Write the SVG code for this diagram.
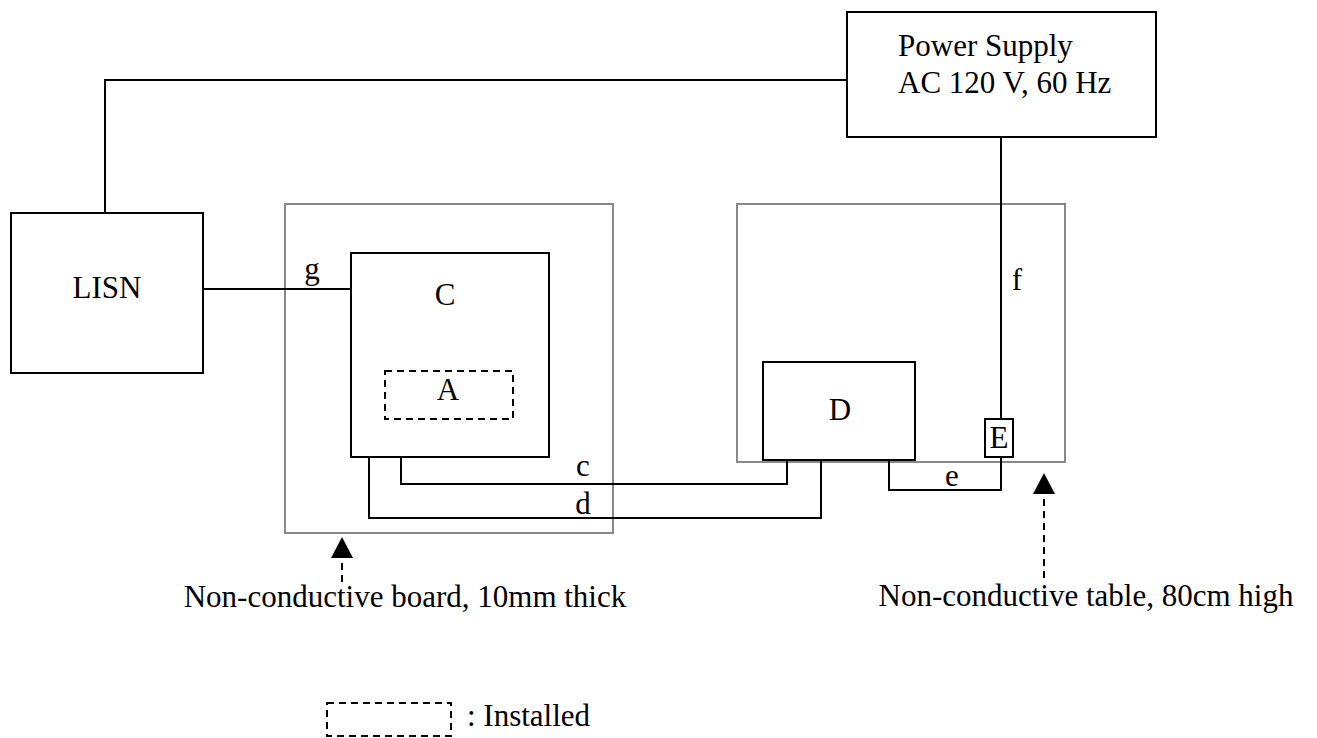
<svg xmlns="http://www.w3.org/2000/svg" width="1317" height="738" viewBox="0 0 1317 738">
<style>
.box{fill:#fff;stroke:#000;stroke-width:2}
.base{fill:none;stroke:#888;stroke-width:2}
.dash{fill:none;stroke:#000;stroke-width:2;stroke-dasharray:7 5}
.wire{fill:none;stroke:#000;stroke-width:2}
text{font-family:"Liberation Serif","DejaVu Serif",serif;font-size:31px;fill:#000}
.m{text-anchor:middle}
</style>
<defs>
<marker id="tri" markerWidth="22" markerHeight="22" refX="21" refY="11" orient="auto" markerUnits="userSpaceOnUse" viewBox="0 0 22 22">
<path d="M0,0 L21,11 L0,22 Z" fill="#000"/>
</marker>
</defs>
<rect width="1317" height="738" fill="#fff"/>
<g id="board"><rect class="base" x="285" y="204" width="328" height="329"/></g>
<g id="table"><rect class="base" x="737" y="204" width="328" height="258"/></g>
<g id="connectors">
<polyline class="wire" points="105,213 105,80 847,80"/>
<line class="wire" x1="201" y1="289" x2="351" y2="289"/>
<polyline class="wire" points="401,457 401,484 787,484 787,460"/>
<polyline class="wire" points="369,457 369,518 821,518 821,460"/>
<polyline class="wire" points="889,460 889,490 1001,490 1001,457"/>
<line class="wire" x1="1001" y1="137" x2="1001" y2="419"/>
<line class="dash" x1="342" y1="582" x2="342" y2="537" marker-end="url(#tri)"/>
<line class="dash" x1="1044" y1="578" x2="1044" y2="473" marker-end="url(#tri)"/>
<text class="m" x="312" y="279">g</text>
<text class="m" x="583" y="476">c</text>
<text class="m" x="583" y="514">d</text>
<text class="m" x="952" y="486">e</text>
<text class="m" x="1017" y="290">f</text>
</g>
<g id="power"><rect class="box" x="847" y="12" width="309" height="125"/>
<text x="898" y="56">Power Supply</text>
<text x="898" y="93">AC 120 V, 60 Hz</text></g>
<g id="lisn"><rect class="box" x="11" y="213" width="192" height="160"/>
<text class="m" x="107" y="298">LISN</text></g>
<g id="C"><rect class="box" x="351" y="253" width="198" height="204"/>
<text class="m" x="445" y="305">C</text></g>
<g id="A"><rect class="dash" x="385" y="371" width="128" height="48"/>
<text class="m" x="448" y="400">A</text></g>
<g id="D"><rect class="box" x="763" y="362" width="152" height="98"/>
<text class="m" x="840" y="420">D</text></g>
<g id="E"><rect class="box" x="985" y="419" width="28" height="38"/>
<text class="m" x="999" y="448">E</text></g>
<text class="m" x="405" y="607">Non-conductive board, 10mm thick</text>
<text class="m" x="1086" y="606">Non-conductive table, 80cm high</text>
<g id="legend"><rect class="dash" x="327" y="703" width="124" height="33"/>
<text x="467" y="726">: Installed</text></g>
</svg>
